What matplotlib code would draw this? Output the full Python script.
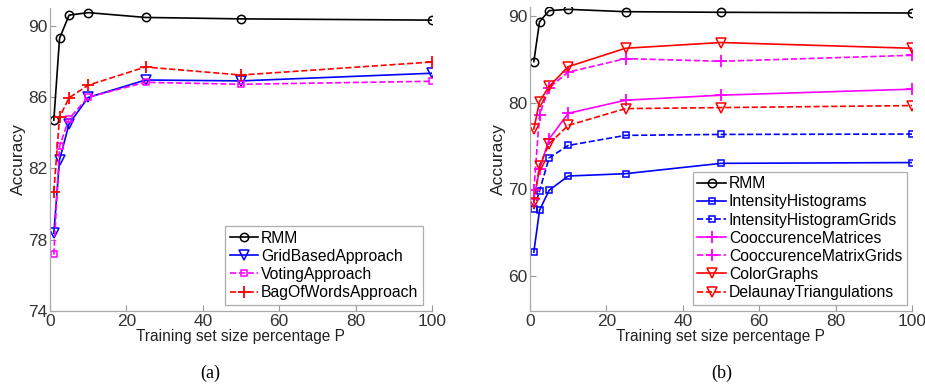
import matplotlib
matplotlib.use("Agg")
import matplotlib.pyplot as plt

# ---- data ----
x_pct = [1, 2.5, 5, 10, 25, 50, 100]

# panel (a)
a_rmm = [84.7, 89.3, 90.6, 90.74, 90.47, 90.39, 90.32]
a_grid = [78.36, 82.48, 84.5, 85.98, 86.96, 86.91, 87.34]
a_voting = [77.17, 83.24, 84.79, 86.0, 86.83, 86.72, 86.89]
a_bow = [80.69, 84.88, 85.96, 86.67, 87.69, 87.24, 87.97]

# panel (b)
b_rmm = [84.71, 89.3, 90.58, 90.73, 90.46, 90.39, 90.31]
b_ih = [62.78, 67.6, 69.9, 71.54, 71.81, 73.0, 73.09]
b_ihg = [67.72, 69.85, 73.63, 75.06, 76.22, 76.33, 76.37]
b_cm = [68.9, 72.3, 75.8, 78.76, 80.27, 80.85, 81.54]
b_cmg = [69.9, 78.6, 81.7, 83.5, 85.06, 84.75, 85.44]
b_cg = [76.95, 80.12, 81.85, 84.13, 86.25, 86.91, 86.25]
b_dt = [68.46, 72.74, 75.25, 77.37, 79.3, 79.42, 79.65]

xlabel = "Training set size percentage P"
ylabel = "Accuracy"

plt.rcParams['font.family'] = ['Liberation Sans', 'DejaVu Sans']

fig = plt.figure(figsize=(9.25, 3.89), dpi=100)
axA = fig.add_axes([50/925, 1-311/389, 382/925, 303/389])
axB = fig.add_axes([530/925, 1-311/389, 382/925, 304/389])

BLUE = '#0000ff'
MAG = '#ff00ff'
RED = '#ff0000'
lw = 1.2
ms_o = 6
ms_v = 7
ms_s = 5
ms_p = 8

def style(ax, ylim, yticks):
    ax.set_xlim(0, 100)
    ax.set_ylim(*ylim)
    ax.set_xticks([0, 20, 40, 60, 80, 100])
    ax.set_yticks(yticks)
    ax.tick_params(direction='in', length=4, color='#999999', labelsize=12.5,
                   labelcolor='#333333', top=False, right=False, pad=2)
    for s in ax.spines.values():
        s.set_color('#aaaaaa')
        s.set_linewidth(0.9)
    ax.spines['top'].set_visible(False)
    ax.spines['right'].set_visible(False)
    ax.set_xlabel(xlabel, fontsize=11.2, color='#222222', labelpad=0)
    ax.set_ylabel(ylabel, fontsize=12.5, color='#222222', labelpad=1)

leg_kw = dict(loc='lower right', fontsize=11.3, frameon=True, fancybox=False,
              edgecolor='#999999', handlelength=1.8, borderpad=0.3,
              labelspacing=0.2, handletextpad=0.2, borderaxespad=0.2)

# panel (a)
axA.plot(x_pct, a_rmm, '-o', color='k', lw=lw, ms=ms_o, mfc='none', mew=1.1, label='RMM')
axA.plot(x_pct, a_grid, '-v', color=BLUE, lw=lw, ms=ms_v, mfc='none', mew=1.1, label='GridBasedApproach')
axA.plot(x_pct, a_voting, '--s', color=MAG, lw=lw, ms=ms_s, mfc='none', mew=1.1, label='VotingApproach')
axA.plot(x_pct, a_bow, '--+', color=RED, lw=lw, ms=ms_p, mew=1.3, label='BagOfWordsApproach')
style(axA, (74, 91), [74, 78, 82, 86, 90])
legA = axA.legend(bbox_to_anchor=(0.985, 0.01), **leg_kw)
legA.get_frame().set_linewidth(0.9)

# panel (b)
axB.plot(x_pct, b_rmm, '-o', color='k', lw=lw, ms=ms_o, mfc='none', mew=1.1, label='RMM')
axB.plot(x_pct, b_ih, '-s', color=BLUE, lw=lw, ms=ms_s, mfc='none', mew=1.1, label='IntensityHistograms')
axB.plot(x_pct, b_ihg, '--s', color=BLUE, lw=lw, ms=ms_s, mfc='none', mew=1.1, label='IntensityHistogramGrids')
axB.plot(x_pct, b_cm, '-+', color=MAG, lw=lw, ms=ms_p, mew=1.3, label='CooccurenceMatrices')
axB.plot(x_pct, b_cmg, '--+', color=MAG, lw=lw, ms=ms_p, mew=1.3, label='CooccurenceMatrixGrids')
axB.plot(x_pct, b_cg, '-v', color=RED, lw=lw, ms=ms_v, mfc='none', mew=1.1, label='ColorGraphs')
axB.plot(x_pct, b_dt, '--v', color=RED, lw=lw, ms=ms_v, mfc='none', mew=1.1, label='DelaunayTriangulations')
style(axB, (56, 91), [60, 70, 80, 90])
legB = axB.legend(bbox_to_anchor=(0.995, 0.01), **leg_kw)
legB.get_frame().set_linewidth(0.9)

fig.text(210/925, 1-373/389, '(a)', ha='center', va='center', fontsize=13,
         family=['Liberation Serif', 'DejaVu Serif'])
fig.text(722/925, 1-373/389, '(b)', ha='center', va='center', fontsize=13,
         family=['Liberation Serif', 'DejaVu Serif'])

fig.savefig('out.png', dpi=100)
